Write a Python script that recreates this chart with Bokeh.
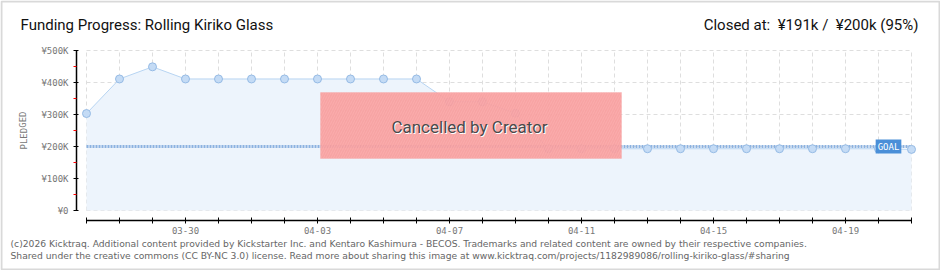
from bokeh.plotting import figure
from bokeh.models import (ColumnDataSource, Label, BoxAnnotation, FixedTicker, Range1d)
from bokeh.embed import file_html
from bokeh.resources import INLINE

# ---------------- data ----------------
dates = ["03-27", "03-28", "03-29", "03-30", "03-31", "04-01", "04-02", "04-03",
         "04-04", "04-05", "04-06", "04-07", "04-08", "04-09", "04-10", "04-11",
         "04-12", "04-13", "04-14", "04-15", "04-16", "04-17", "04-18", "04-19",
         "04-20", "04-21"]
pledged = [303000, 411000, 449000, 411000, 411000, 411000, 411000, 411000,
           411000, 411000, 411000, 340000, 340000, 304000, 193000, 193000,
           193000, 193000, 193000, 193000, 193000, 193000, 193000, 193000,
           193000, 191000]
goal = 200000
y_ticks = [0, 100000, 200000, 300000, 400000, 500000]
y_minor = [50000, 150000, 250000, 350000, 450000]
y_tick_labels = ["¥0", "¥100K", "¥200K", "¥300K", "¥400K", "¥500K"]
x_label_every = 4
x_label_first = 3
title_left = "Funding Progress: Rolling Kiriko Glass"
title_right = "Closed at:\u00a0 ¥191k /\u00a0 ¥200k (95%)"
footer1 = ("(c)2026 Kicktraq. Additional content provided by Kickstarter Inc. and Kentaro "
           "Kashimura - BECOS. Trademarks and related content are owned by their respective companies.")
footer2 = ("Shared under the creative commons (CC BY-NC 3.0) license. Read more about sharing "
           "this image at www.kicktraq.com/projects/1182989086/rolling-kiriko-glass/#sharing")
overlay_text = "Cancelled by Creator"

# ---------------- layout (pixels) ----------------
W, H = 940, 270
X0_PX = 86          # canvas x of first day
Y0_PX = 210         # canvas y of zero pledged
px_per_day = 33.0
px_per_yen = 0.32 / 1000.0

idx = list(range(len(dates)))
n = len(dates)


def dx(cx):
    return (cx - X0_PX) / px_per_day


def dy(cy):
    return (Y0_PX - cy) / px_per_yen


p = figure(width=W, height=H, output_backend="svg", toolbar_location=None,
           x_range=Range1d(dx(0), dx(W)), y_range=Range1d(dy(H), dy(0)),
           min_border=0, min_border_left=0, min_border_right=0,
           min_border_top=0, min_border_bottom=0)
p.outline_line_color = None
p.background_fill_color = "white"
p.border_fill_color = "white"

src = ColumnDataSource(dict(x=idx, y=pledged, base=[0] * n, goal=[goal] * n))

# grids
p.xgrid.ticker = FixedTicker(ticks=idx)
p.ygrid.ticker = FixedTicker(ticks=y_ticks)
for g in (p.xgrid, p.ygrid):
    g.grid_line_color = "#dedede"
    g.grid_line_dash = "4 3"
    g.grid_line_width = 1
p.xgrid.cross_bounds = (0, y_ticks[-1])
p.ygrid.cross_bounds = (0, n - 1)

# area + line + markers
p.varea(x="x", y1="base", y2="y", source=src, fill_color="#edf4fc")
p.line(x="x", y="y", source=src, line_color="#b7d4f2", line_width=1)
p.line(x="x", y="goal", source=src, line_color="#8cb2e0", line_width=3, line_dash="2 1")
p.scatter(x="x", y="y", source=src, size=8, fill_color="#c4dbf5", line_color="#96bbe5")

# axes (drawn inside the full-canvas frame)
xa = p.xaxis[0]
xa.fixed_location = dy(220)
xa.ticker = FixedTicker(ticks=idx)
xa.bounds = (0, n - 1)
xa.major_label_overrides = {i: (dates[i] if (i - x_label_first) % x_label_every == 0 else "")
                            for i in idx}
xa.major_tick_in = 3
xa.major_tick_out = 3
xa.minor_tick_line_color = None
xa.axis_line_color = "black"
xa.axis_line_width = 1.5
xa.major_tick_line_color = "black"
xa.major_label_text_font = "DejaVu Sans Mono"
xa.major_label_text_font_size = "9px"
xa.major_label_text_color = "#777777"
xa.major_label_standoff = 3

ya = p.yaxis[0]
ya.fixed_location = dx(76)
ya.ticker = FixedTicker(ticks=y_ticks, minor_ticks=y_minor)
ya.bounds = (0, y_ticks[-1])
ya.major_label_overrides = {t: l for t, l in zip(y_ticks, y_tick_labels)}
ya.major_tick_in = 2
ya.major_tick_out = 3
ya.minor_tick_in = 0
ya.minor_tick_out = 3
ya.minor_tick_line_color = "red"
ya.axis_line_color = "black"
ya.axis_line_width = 1.5
ya.major_label_text_font = "DejaVu Sans Mono"
ya.major_label_text_font_size = "9px"
ya.major_label_text_color = "#777777"
ya.major_label_standoff = 5

p.add_layout(Label(x=dx(23), y=dy(130), text="PLEDGED", angle=1.5708,
                   text_align="center", text_baseline="middle",
                   text_font="DejaVu Sans Mono", text_font_size="9px", text_color="#777777"))

# goal tag
p.add_layout(Label(x=dx(888), y=goal, text="GOAL", text_align="center", text_baseline="middle",
                   text_color="white", text_font="DejaVu Sans Mono", text_font_size="9px",
                   background_fill_color="#4a8fd8", padding=2))

# cancelled overlay
p.add_layout(BoxAnnotation(left=dx(320), right=dx(621), bottom=dy(158), top=dy(92),
                           fill_color="#f79b9b", fill_alpha=0.92,
                           hatch_pattern="/", hatch_color="#fbb2b2", hatch_scale=5,
                           hatch_alpha=0.6, line_color="#f4abab", line_width=1))
for ox, oy, col in ((1, -1, "white"), (0, 0, "#4a4a4a")):
    p.add_layout(Label(x=dx(469), y=dy(126), text=overlay_text, text_align="center",
                       text_baseline="middle", text_color=col, text_font="Roboto",
                       text_font_size="17px", x_offset=ox, y_offset=oy))

# titles / footers
p.add_layout(Label(x=dx(20), y=dy(24), text=title_left,
                   text_font="Roboto", text_font_size="15px", text_color="#111111",
                   text_baseline="middle"))
p.add_layout(Label(x=dx(918), y=dy(24), text=title_right,
                   text_font="Roboto", text_font_size="15px", text_color="#111111",
                   text_baseline="middle", text_align="right"))
p.add_layout(Label(x=dx(10), y=dy(243), text=footer1,
                   text_font="DejaVu Sans", text_font_size="9.2px", text_color="#666666",
                   text_baseline="middle"))
p.add_layout(Label(x=dx(10), y=dy(255), text=footer2,
                   text_font="DejaVu Sans", text_font_size="9.2px", text_color="#666666",
                   text_baseline="middle"))
p.add_layout(BoxAnnotation(left=dx(1), right=dx(W - 1), top=dy(1), bottom=dy(H - 1),
                           fill_color=None, fill_alpha=0, line_color="#808080", line_width=2))

out = file_html(p, INLINE)
open("out.html", "w").write(out)
